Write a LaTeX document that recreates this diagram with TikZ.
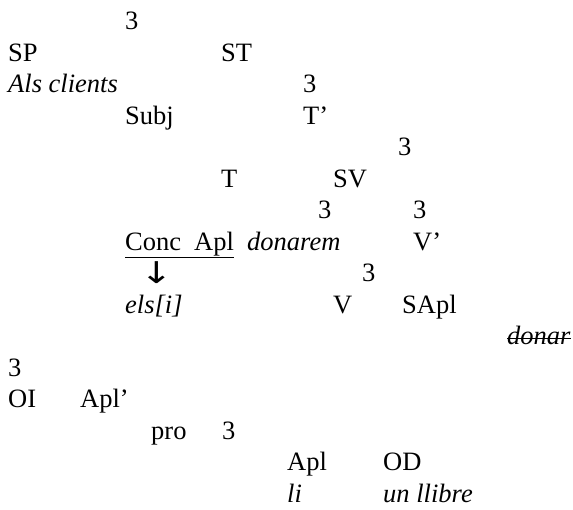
\documentclass[tikz,border=0pt]{standalone}
\usepackage{fontspec}
\setmainfont{Liberation Serif}
\newfontfamily\arrowfont{DejaVu Sans}
\usetikzlibrary{positioning}

\tikzset{
  lbl/.style={anchor=base west, inner sep=0pt, font=\fontsize{26.5}{30}\selectfont},
  gloss/.style={lbl, font=\fontsize{26.5}{30}\selectfont\itshape},
}

\begin{document}
\begin{tikzpicture}[x=1pt, y=-1pt]

	\def\d{31.5};
	\def\dy{29.5};

	\useasboundingbox (0,0) rectangle (573,509);

	% branching marks
	\foreach \i/\x/\name in {0/125/b0, 2/303/b2, 4/398/b4, 6/318/b6, 6/413/b6r, 8/362/b8, 11/8/b11, 13/222/b13} {
		\node[lbl] (\name) at (\x, \i*\d + \dy) {3};
	}

	% categories
	\foreach \i/\x/\name/\txt in {1/8/sp/SP, 1/221/st/ST, 3/125/subj/Subj, 3/303/tbar/T’,
	    5/221/t/T, 5/333/sv/SV, 7/413/vbar/V’, 9/333/v/V, 9/402/sapl/SApl,
	    12/8/oi/OI, 12/80/aplbar/Apl’, 13/151/pro/pro, 14/287/apl/Apl, 14/383/od/OD} {
		\node[lbl] (\name) at (\x, \i*\d + \dy) {\txt};
	}
	\node[lbl] (conc) at (125, 7*\d + \dy) {\underline{Conc\hspace{13pt}Apl}};

	% words
	\foreach \i/\x/\name/\txt in {2/8/als/{Als clients}, 7/247/donarem/donarem, 9/125/els/{els[i]},
	    10/507/donar/donar, 15/287/li/li, 15/383/llibre/{un llibre}} {
		\node[gloss] (\name) at (\x, \i*\d + \dy) {\txt};
	}

	\node[lbl, anchor=base, xscale=1.3, transform shape, font=\fontsize{30}{32}\selectfont\arrowfont] (down) at (157, 8*\d + \dy + 2) {↓};

	% copy of the verb is struck out
	\draw[line width=0.8pt] ([yshift=6pt]donar.base west) -- ([yshift=6pt]donar.base east);

\end{tikzpicture}
\end{document}
